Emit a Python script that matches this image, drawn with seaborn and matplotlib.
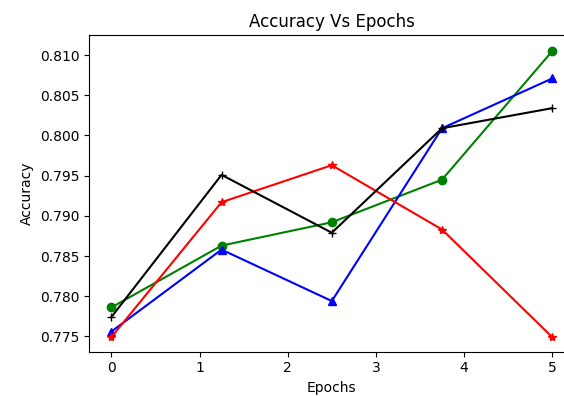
import matplotlib
matplotlib.use('Agg')
import matplotlib.pyplot as plt
import seaborn as sns

# values
epochs = [0, 1.25, 2.5, 3.75, 5]
acc_green = [0.7786, 0.7863, 0.7892, 0.7945, 0.8105]
acc_blue = [0.7756, 0.7858, 0.7794, 0.8009, 0.8071]
acc_red = [0.7749, 0.7917, 0.7963, 0.7883, 0.7749]
acc_black = [0.7774, 0.7951, 0.7879, 0.8009, 0.8034]

series = [
    (acc_green, 'g', 'o'),
    (acc_blue, 'b', '^'),
    (acc_red, 'r', '*'),
    (acc_black, 'k', '+'),
]

fig = plt.figure(figsize=(5.64, 3.96), dpi=100)
ax = fig.add_axes([0.1583, 0.1119, 0.860, 0.7997])

for vals, col, mk in series:
    sns.lineplot(x=epochs, y=vals, color=col, marker=mk, markersize=6,
                 markeredgecolor=col, markeredgewidth=1.0, linewidth=1.5, ax=ax)

ax.set_xlim(-0.25, 5.25)
ax.set_ylim(0.7731, 0.8125)
ax.set_yticks([0.775, 0.780, 0.785, 0.790, 0.795, 0.800, 0.805, 0.810])
ax.yaxis.set_major_formatter(matplotlib.ticker.FormatStrFormatter('%.3f'))
ax.set_title('Accuracy Vs Epochs')
ax.set_xlabel('Epochs')
ax.set_ylabel('Accuracy')

fig.savefig('out.png', dpi=100)
